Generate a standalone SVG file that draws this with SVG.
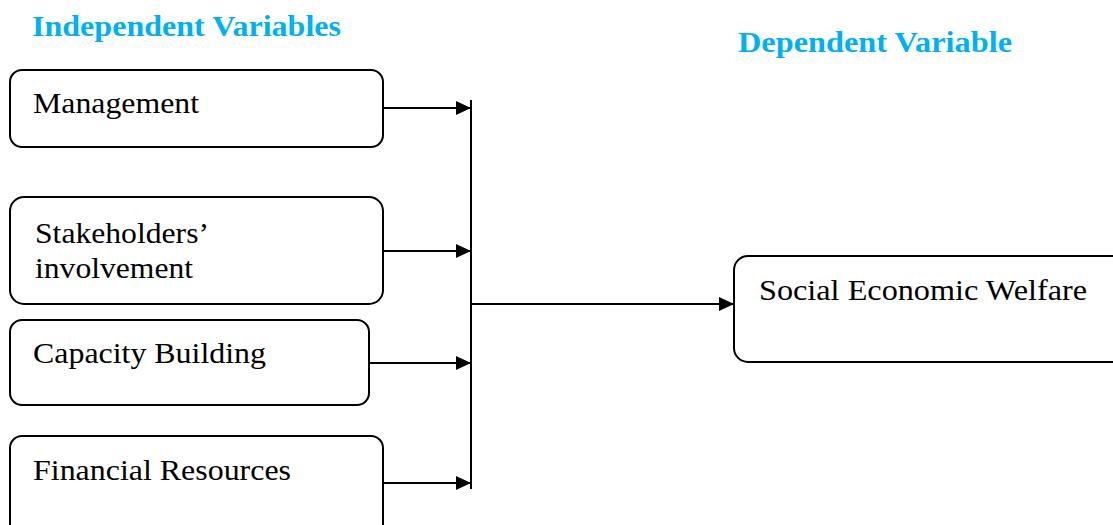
<svg xmlns="http://www.w3.org/2000/svg" width="1113" height="525" viewBox="0 0 1113 525">
<style>
.box{fill:#fff;stroke:#000;stroke-width:2}
.t{font-family:'Liberation Serif','Times New Roman',serif;font-size:30px;fill:#000}
.h{font-family:'Liberation Serif','Times New Roman',serif;font-size:29px;font-weight:bold;fill:#00B0F0}
.c{stroke:#000;stroke-width:2;fill:none}
</style>
<defs>
<marker id="ah" markerWidth="16" markerHeight="14" refX="15" refY="7" orient="auto" markerUnits="userSpaceOnUse">
<path d="M0,0 L15,7 L0,14 Z" fill="#000"/>
</marker>
</defs>
<rect width="1113" height="525" fill="#fff"/>
<text class="h" x="32" y="36" textLength="309" lengthAdjust="spacingAndGlyphs">Independent Variables</text>
<text class="h" x="738" y="52" textLength="274" lengthAdjust="spacingAndGlyphs">Dependent Variable</text>
<g id="management">
<rect class="box" x="10" y="70" width="373" height="77" rx="12"/>
<text class="t" x="33" y="113" textLength="166" lengthAdjust="spacingAndGlyphs">Management</text>
</g>
<g id="stakeholders">
<rect class="box" x="10" y="197" width="373" height="107" rx="14"/>
<text class="t" x="35" y="243" textLength="174" lengthAdjust="spacingAndGlyphs">Stakeholders’</text>
<text class="t" x="35" y="278" textLength="158" lengthAdjust="spacingAndGlyphs">involvement</text>
</g>
<g id="capacity">
<rect class="box" x="10" y="320" width="359" height="85" rx="12"/>
<text class="t" x="33" y="363" textLength="233" lengthAdjust="spacingAndGlyphs">Capacity Building</text>
</g>
<g id="financial">
<rect class="box" x="10" y="436" width="373" height="100" rx="12"/>
<text class="t" x="33" y="480" textLength="258" lengthAdjust="spacingAndGlyphs">Financial Resources</text>
</g>
<g id="welfare">
<rect class="box" x="734" y="256" width="400" height="106" rx="14"/>
<text class="t" x="759" y="300" textLength="328" lengthAdjust="spacingAndGlyphs">Social Economic Welfare</text>
</g>
<g id="connectors">
<line class="c" x1="383" y1="108" x2="471" y2="108" marker-end="url(#ah)"/>
<line class="c" x1="383" y1="251" x2="471" y2="251" marker-end="url(#ah)"/>
<line class="c" x1="369" y1="363" x2="471" y2="363" marker-end="url(#ah)"/>
<line class="c" x1="383" y1="483" x2="471" y2="483" marker-end="url(#ah)"/>
<line class="c" x1="471" y1="100" x2="471" y2="489"/>
<line class="c" x1="471" y1="304" x2="734" y2="304" marker-end="url(#ah)"/>
</g>
</svg>
